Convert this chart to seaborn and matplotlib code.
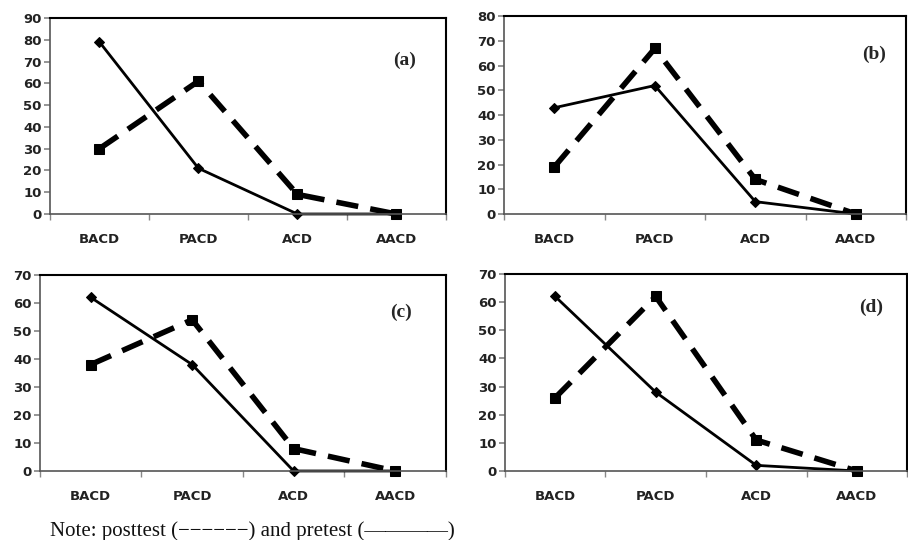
import matplotlib
matplotlib.use("Agg")
import matplotlib.pyplot as plt
import seaborn as sns
import pandas as pd
import numpy as np

categories = ["BACD", "PACD", "ACD", "AACD"]

pre_a = [79, 21, 0, 0]
post_a = [30, 61, 9, 0]
pre_b = [43, 52, 5, 0]
post_b = [19, 67, 14, 0]
pre_c = [62, 38, 0, 0]
post_c = [38, 54, 8, 0]
pre_d = [62, 28, 2, 0]
post_d = [26, 62, 11, 0]

panel_labels = ["(a)", "(b)", "(c)", "(d)"]
y_max = [90, 80, 70, 70]

sns.set_theme(style="white")
plt.rcParams["font.family"] = ["DejaVu Sans"]

fig = plt.figure(figsize=(9.08, 5.40), dpi=100)
positions = [
    [0.055, 0.6037, 0.436, 0.363],
    [0.555, 0.6037, 0.443, 0.366],
    [0.044, 0.1278, 0.447, 0.363],
    [0.556, 0.1278, 0.443, 0.365],
]
label_pos = [(0.896, 0.786), (0.92, 0.81), (0.89, 0.81), (0.91, 0.83)]

series = [(pre_a, post_a), (pre_b, post_b), (pre_c, post_c), (pre_d, post_d)]

for i, (pre, post) in enumerate(series):
    ax = fig.add_axes(positions[i])
    df = pd.DataFrame({
        "cat": categories * 2,
        "value": pre + post,
        "test": ["pretest"] * 4 + ["posttest"] * 4,
    })
    sns.lineplot(data=df[df.test == "pretest"], x="cat", y="value", ax=ax,
                 color="black", linewidth=2.0, marker="D", markersize=5.5,
                 markeredgecolor="black", legend=False, sort=False)
    sns.lineplot(data=df[df.test == "posttest"], x="cat", y="value", ax=ax,
                 color="black", linewidth=4.0, marker="s", markersize=6.5,
                 markeredgecolor="black", legend=False, sort=False,
                 dashes=False)
    ax.lines[-1].set_dashes([4, 2.2])
    ax.set_xlim(-0.5, 3.5)
    ax.set_ylim(0, y_max[i])
    ax.set_yticks(np.arange(0, y_max[i] + 1, 10))
    ax.set_xticks(range(4))
    ax.set_xticklabels(categories)
    ax.set_xticks(np.arange(-0.5, 4, 1), minor=True)
    ax.tick_params(axis="x", which="major", length=0, pad=14, labelsize=9.5,
                   labelcolor="#222222")
    ax.tick_params(axis="x", which="minor", length=4, direction="out",
                   color="#888888", bottom=True)
    ax.tick_params(axis="y", length=4, direction="out", left=True,
                   color="#888888", labelsize=9.5, labelcolor="#222222", pad=2)
    for lab in ax.get_xticklabels() + ax.get_yticklabels():
        lab.set_fontweight("bold")
    ax.set_xlabel("")
    ax.set_ylabel("")
    for name, sp in ax.spines.items():
        sp.set_visible(True)
        sp.set_color("black" if name in ("top", "right") else "#555555")
        sp.set_linewidth(1.5 if name in ("top", "right") else 1.2)
    ax.text(label_pos[i][0], label_pos[i][1], panel_labels[i],
            transform=ax.transAxes, ha="center", va="center",
            fontsize=14, fontweight="bold", family="Liberation Serif")
    for ln in ax.lines:
        ln.set_clip_on(False)

fig.text(50 / 908, 1 - 531 / 540,
         "Note: posttest (\u2212\u2212\u2212\u2212\u2212\u2212) and pretest (\u2014\u2014\u2014\u2014)",
         ha="left", va="center", fontsize=15, family="Liberation Serif",
         color="#111111")

fig.savefig("out.png", dpi=100)
